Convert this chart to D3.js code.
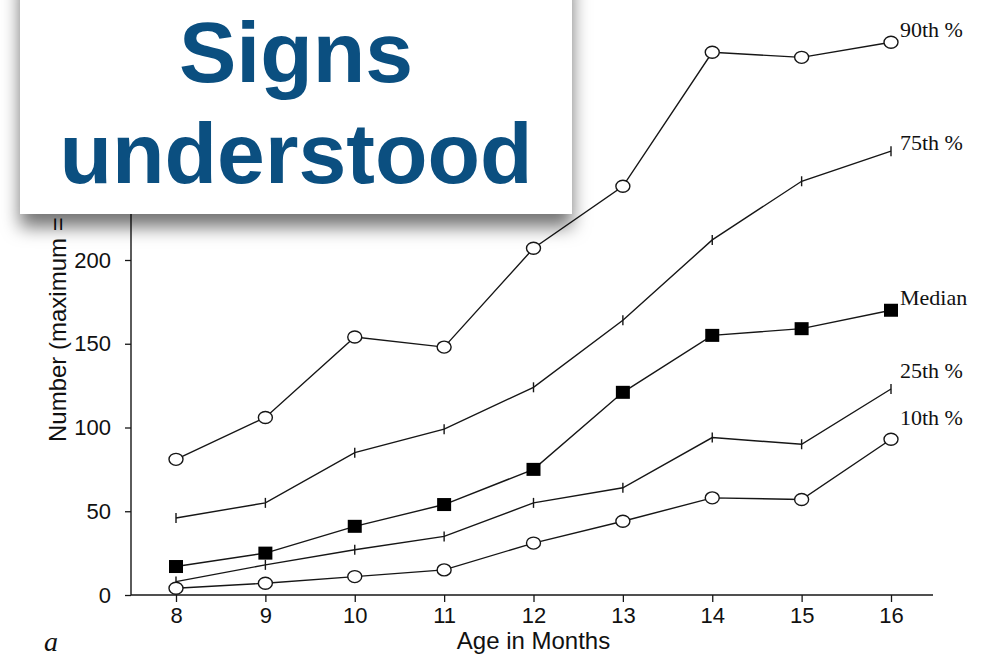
<!DOCTYPE html>
<html>
<head>
<meta charset="utf-8">
<script src="https://cdn.jsdelivr.net/npm/d3@7"></script>
<style>
  html, body { margin: 0; padding: 0; background: #fff; }
  svg { display: block; }
</style>
</head>
<body>
<svg id="chart" width="984" height="658"></svg>
<script>
// Age in months (x categories)
const months = [8, 9, 10, 11, 12, 13, 14, 15, 16];

// Percentile series: number of signs understood at each age
const p90    = [81, 106, 154, 148, 207, 244, 324, 321, 330];
const p75    = [46, 55, 85, 99, 124, 164, 212, 247, 265];
const median = [17, 25, 41, 54, 75, 121, 155, 159, 170];
const p25    = [8, 18, 27, 35, 55, 64, 94, 90, 123];
const p10    = [4, 7, 11, 15, 31, 44, 58, 57, 93];

const seriesNames = ["90th %", "75th %", "Median", "25th %", "10th %"];
const yTicks = [0, 50, 100, 150, 200];

const titleLines = ["Signs", "understood"];

const svg = d3.select("#chart");

const x = d3.scaleLinear().domain([8, 16]).range([176, 891]);
const y = d3.scaleLinear().domain([0, 200]).range([595, 260]);
const axisX = 131;

const ink = "#161616";

// axes
const gy = svg.append("g").attr("transform", `translate(${axisX},0)`)
  .call(d3.axisLeft(y).tickValues(yTicks).tickSize(6).tickPadding(14));
gy.select(".domain").remove();
gy.selectAll("line").attr("stroke", ink).attr("stroke-width", 1.3);
gy.selectAll("text").attr("font-family", "'Liberation Sans', Arial, sans-serif")
  .attr("font-size", 22).attr("fill", "#111");

svg.append("line")
  .attr("x1", axisX).attr("x2", axisX)
  .attr("y1", y(0)).attr("y2", y(330))
  .attr("stroke", ink).attr("stroke-width", 1.4);

const gx = svg.append("g").attr("transform", `translate(0,${y(0)})`)
  .call(d3.axisBottom(x).tickValues(months).tickSize(7).tickPadding(5).tickFormat(d3.format("d")));
gx.select(".domain").remove();
gx.selectAll("line").attr("stroke", ink).attr("stroke-width", 1.3);
gx.selectAll("text").attr("font-family", "'Liberation Sans', Arial, sans-serif")
  .attr("font-size", 22).attr("fill", "#111");

svg.append("line")
  .attr("x1", axisX).attr("x2", x(16.47))
  .attr("y1", y(0)).attr("y2", y(0))
  .attr("stroke", ink).attr("stroke-width", 1.4);

// axis titles
svg.append("text")
  .attr("x", x(12)).attr("y", 649)
  .attr("text-anchor", "middle")
  .attr("font-family", "'Liberation Sans', Arial, sans-serif")
  .attr("font-size", 24).attr("fill", "#111")
  .text("Age in Months");

svg.append("text")
  .attr("transform", "translate(66,442) rotate(-90)")
  .attr("font-family", "'Liberation Sans', Arial, sans-serif")
  .attr("font-size", 24).attr("fill", "#111")
  .text("Number (maximum =");

svg.append("text")
  .attr("x", 44).attr("y", 651)
  .attr("font-family", "'Liberation Serif', 'Times New Roman', serif")
  .attr("font-style", "italic")
  .attr("font-size", 28).attr("fill", "#111")
  .text("a");

// series lines and markers
const series = [
  { name: seriesNames[0], values: p90,    marker: "circle", labelY: 37 },
  { name: seriesNames[1], values: p75,    marker: "tick",   labelY: 150 },
  { name: seriesNames[2], values: median, marker: "square", labelY: 305 },
  { name: seriesNames[3], values: p25,    marker: "tick",   labelY: 378 },
  { name: seriesNames[4], values: p10,    marker: "circle", labelY: 425 }
];

const line = d3.line().x((d, i) => x(months[i])).y(d => y(d));

const gLines = svg.append("g");
series.forEach(s => {
  gLines.append("path")
    .datum(s.values)
    .attr("d", line)
    .attr("fill", "none")
    .attr("stroke", ink)
    .attr("stroke-width", 1.4);
});

const gMarks = svg.append("g");
series.forEach(s => {
  const pts = s.values.map((v, i) => ({ cx: x(months[i]), cy: y(v) }));
  if (s.marker === "circle") {
    gMarks.selectAll(null).data(pts).enter().append("ellipse")
      .attr("cx", d => d.cx).attr("cy", d => d.cy)
      .attr("rx", 7).attr("ry", 6)
      .attr("fill", "#fff").attr("stroke", ink).attr("stroke-width", 1.4);
  } else if (s.marker === "square") {
    gMarks.selectAll(null).data(pts).enter().append("rect")
      .attr("x", d => d.cx - 7).attr("y", d => d.cy - 6.5)
      .attr("width", 14).attr("height", 13)
      .attr("fill", "#000");
  } else {
    gMarks.selectAll(null).data(pts).enter().append("line")
      .attr("x1", d => d.cx).attr("x2", d => d.cx)
      .attr("y1", d => d.cy - 5).attr("y2", d => d.cy + 5)
      .attr("stroke", ink).attr("stroke-width", 1.4);
  }
  svg.append("text")
    .attr("x", 900).attr("y", s.labelY)
    .attr("font-family", "'Liberation Serif', 'Times New Roman', serif")
    .attr("font-size", 22).attr("fill", "#111")
    .text(s.name);
});

// title card with a soft shadow falling below it
const defs = svg.append("defs");
const f = defs.append("filter").attr("id", "cardShadow")
  .attr("x", "-20%").attr("y", "-20%").attr("width", "140%").attr("height", "150%");
f.append("feDropShadow")
  .attr("dx", 0).attr("dy", 13)
  .attr("stdDeviation", 9)
  .attr("flood-color", "#000").attr("flood-opacity", 0.55);

svg.append("rect")
  .attr("x", 20).attr("y", -30)
  .attr("width", 552).attr("height", 244)
  .attr("fill", "#fff")
  .attr("filter", "url(#cardShadow)");

svg.append("g").selectAll("text").data(titleLines).enter().append("text")
  .attr("x", 296)
  .attr("y", (d, i) => 82 + i * 101)
  .attr("text-anchor", "middle")
  .attr("font-family", "'Liberation Sans', Arial, sans-serif")
  .attr("font-weight", "bold")
  .attr("font-size", 86)
  .attr("fill", "#0b4f80")
  .text(d => d);
</script>
</body>
</html>
